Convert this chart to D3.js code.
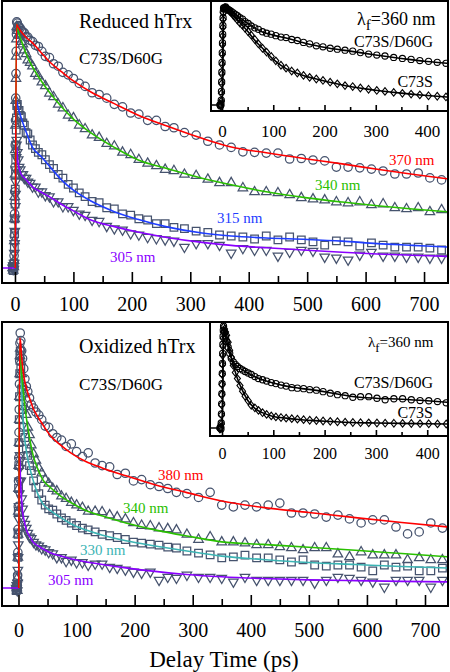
<!DOCTYPE html>
<html><head><meta charset="utf-8">
<script src="https://cdn.jsdelivr.net/npm/d3@7"></script>
<style>
body{margin:0;background:#fff}
svg{display:block}
text{font-family:"Liberation Serif","Times New Roman",serif}
</style>
</head><body>
<svg id="c" width="450" height="672"></svg>
<script>
// ---------- DATA ----------
const mainTicks = [0,100,200,300,400,500,600,700];
const mainMinor = [50,150,250,350,450,550,650];
const insetTicks = [0,100,200,300,400];
const insetMinor = [50,150,250,350];

const mainTimes = [-4,-3,-2,
 -1.5,-1.1,-0.7,-0.3,0.1,0.5,0.9,1.3,1.7,2.1,2.5,
 3,
 4,5.5,7,9,11,13.5,16,19,22,26,
 30,35,40,46,52,59,66,74,82,91,
 100,110,120,132,144,157,170,184,198,212,
 227,242,257,272,290,310,330,
 350,370,390,410,430,450,470,490,510,530,
 550,570,590,610,630,650,670,690,710,730];

// Reduced hTrx, C73S/D60G
const red370 = [-0.01,0.005,0.0,
 0.05,0.13,0.22,0.31,0.41,0.5,0.6,0.69,0.79,0.88,0.95,
 1.0,
 0.995,0.985,0.98,0.975,0.965,0.96,0.955,0.94,0.938,0.925,
 0.92,0.905,0.9,0.88,0.86,0.855,0.83,0.82,0.795,0.785,
 0.77,0.75,0.738,0.712,0.705,0.69,0.665,0.655,0.63,0.625,
 0.6,0.6,0.575,0.57,0.55,0.54,0.515,
 0.5,0.49,0.472,0.47,0.467,0.467,0.443,0.445,0.439,0.435,
 0.41,0.41,0.407,0.402,0.394,0.382,0.382,0.386,0.366,0.358];
const red340 = [0.0,-0.01,0.005,
 0.03,0.11,0.2,0.29,0.38,0.48,0.58,0.68,0.77,0.86,0.93,
 0.98,
 0.975,0.965,0.95,0.945,0.92,0.91,0.885,0.87,0.845,0.835,
 0.82,0.79,0.78,0.755,0.74,0.71,0.695,0.665,0.65,0.62,
 0.61,0.58,0.565,0.54,0.53,0.505,0.495,0.47,0.46,0.44,
 0.425,0.415,0.4,0.395,0.38,0.375,0.36,
 0.346,0.346,0.325,0.309,0.309,0.305,0.297,0.285,0.28,0.276,
 0.268,0.264,0.268,0.256,0.26,0.244,0.24,0.244,0.228,0.236];
const red315 = [0.005,-0.01,0.0,
 0.02,0.08,0.14,0.2,0.26,0.32,0.38,0.44,0.5,0.56,0.61,
 0.66,
 0.665,0.64,0.64,0.62,0.615,0.59,0.58,0.55,0.545,0.52,
 0.5,0.485,0.47,0.46,0.44,0.42,0.405,0.38,0.365,0.34,
 0.325,0.305,0.29,0.27,0.265,0.245,0.24,0.22,0.215,0.2,
 0.195,0.18,0.18,0.165,0.16,0.15,0.145,
 0.134,0.13,0.126,0.118,0.13,0.114,0.126,0.114,0.106,0.093,
 0.11,0.106,0.089,0.102,0.093,0.085,0.085,0.085,0.081,0.073];
const red305 = [0.0,0.01,-0.005,
 0.02,0.06,0.1,0.15,0.2,0.25,0.3,0.35,0.4,0.45,0.5,
 0.52,
 0.47,0.44,0.41,0.4,0.38,0.38,0.365,0.365,0.35,0.345,
 0.33,0.33,0.31,0.31,0.295,0.29,0.27,0.27,0.25,0.25,
 0.235,0.22,0.215,0.195,0.19,0.17,0.16,0.155,0.14,0.135,
 0.125,0.12,0.115,0.11,0.085,0.1,0.1,
 0.093,0.061,0.08,0.073,0.073,0.049,0.065,0.073,0.069,0.045,
 0.041,0.033,0.053,0.065,0.049,0.049,0.045,0.045,0.041,0.041];

// Oxidized hTrx, C73S/D60G
const ox380 = [0.0,-0.01,0.01,
 0.05,0.14,0.23,0.32,0.42,0.51,0.61,0.7,0.8,0.89,0.96,
 1.0,
 0.97,0.93,0.9,0.86,0.82,0.79,0.77,0.745,0.72,0.705,
 0.69,0.678,0.66,0.635,0.63,0.605,0.59,0.58,0.555,0.565,
 0.535,0.515,0.53,0.49,0.48,0.475,0.445,0.45,0.42,0.425,
 0.405,0.398,0.39,0.375,0.37,0.355,0.375,
 0.325,0.318,0.325,0.318,0.325,0.333,0.294,0.294,0.29,0.278,
 0.286,0.271,0.255,0.267,0.267,0.239,0.212,0.22,0.255,0.235];
const ox340 = [0.01,0.0,-0.01,
 0.04,0.12,0.21,0.3,0.39,0.48,0.57,0.66,0.75,0.84,0.91,
 0.94,
 0.89,0.84,0.8,0.76,0.71,0.68,0.63,0.6,0.56,0.525,
 0.5,0.47,0.45,0.425,0.41,0.39,0.38,0.36,0.35,0.335,
 0.325,0.315,0.3,0.3,0.298,0.286,0.278,0.27,0.255,0.245,
 0.243,0.235,0.232,0.227,0.21,0.19,0.2,
 0.18,0.18,0.176,0.169,0.169,0.161,0.157,0.149,0.157,0.157,
 0.133,0.122,0.141,0.129,0.129,0.129,0.11,0.118,0.11,0.11];
const ox330 = [-0.01,0.005,0.0,
 0.04,0.12,0.21,0.3,0.39,0.48,0.57,0.66,0.75,0.84,0.91,
 0.93,
 0.86,0.78,0.7,0.63,0.59,0.545,0.52,0.48,0.46,0.42,
 0.395,0.37,0.345,0.325,0.31,0.305,0.29,0.275,0.265,0.255,
 0.245,0.235,0.228,0.22,0.21,0.205,0.198,0.19,0.18,0.176,
 0.172,0.168,0.16,0.157,0.145,0.137,0.13,
 0.118,0.122,0.129,0.118,0.118,0.11,0.102,0.11,0.09,0.086,
 0.09,0.09,0.082,0.067,0.09,0.082,0.086,0.067,0.067,0.078];
const ox305 = [0.0,0.01,-0.01,
 0.02,0.07,0.12,0.17,0.22,0.27,0.32,0.37,0.42,0.47,0.52,
 0.5,
 0.42,0.35,0.31,0.27,0.25,0.235,0.215,0.2,0.195,0.18,
 0.17,0.165,0.155,0.15,0.14,0.135,0.12,0.12,0.105,0.11,
 0.1,0.1,0.09,0.095,0.095,0.082,0.078,0.071,0.063,0.059,
 0.063,0.031,0.043,0.039,0.051,0.043,0.043,
 0.039,0.024,0.043,0.031,0.031,0.031,0.031,0.031,0.02,0.031,
 0.043,0.039,0.031,0.024,0.004,0.031,0.031,0.031,0.004,0.031];

// fitted curves
const redFitTimes = [-22,0.5,2.5,5,10,18,30,45,60,80,100,130,170,210,260,320,370,430,500,560,620,680,741];
const redFit370 = [null,0,0.99,0.98,0.962,0.94,0.915,0.875,0.836,0.797,0.76,0.715,0.668,0.622,0.577,0.527,0.492,0.468,0.443,0.423,0.401,0.381,0.362];
const redFit340 = [null,0,0.99,0.965,0.93,0.877,0.817,0.76,0.711,0.654,0.605,0.549,0.49,0.44,0.404,0.365,0.338,0.31,0.285,0.268,0.253,0.24,0.228];
const redFit315 = [null,0,0.68,0.655,0.615,0.56,0.49,0.452,0.411,0.357,0.316,0.272,0.229,0.198,0.167,0.142,0.13,0.122,0.116,0.109,0.099,0.092,0.085];
const redFit305 = [0,0,0.5,0.43,0.384,0.362,0.33,0.308,0.288,0.258,0.232,0.195,0.168,0.146,0.124,0.104,0.092,0.082,0.072,0.064,0.057,0.052,0.047];

const oxFitTimes = [-28,0.5,2,3.5,5,7,10,14,19,25,33,42,54,70,90,115,145,185,235,290,350,420,500,580,660,740];
const oxFit380 = [null,0,0.98,0.965,0.92,0.87,0.82,0.78,0.745,0.706,0.672,0.64,0.6,0.565,0.53,0.497,0.47,0.44,0.405,0.374,0.341,0.316,0.296,0.276,0.257,0.239];
const oxFit340 = [null,0,0.95,0.9,0.85,0.8,0.735,0.66,0.59,0.522,0.468,0.424,0.396,0.365,0.335,0.305,0.282,0.255,0.228,0.204,0.181,0.171,0.16,0.148,0.135,0.122];
const oxFit330 = [null,0,0.96,0.89,0.81,0.69,0.6,0.53,0.475,0.424,0.37,0.33,0.305,0.28,0.252,0.228,0.207,0.185,0.165,0.145,0.125,0.112,0.1,0.092,0.084,0.078];
const oxFit305 = [0,0,0.52,0.42,0.36,0.3,0.262,0.225,0.203,0.18,0.166,0.154,0.139,0.127,0.115,0.103,0.092,0.079,0.065,0.053,0.044,0.037,0.032,0.029,0.026,0.024];

// insets (lambda_f = 360 nm)
const insetTimes = [-4,-3,-2,
 -1.5,-1.1,-0.7,-0.3,0.1,0.5,0.9,1.3,1.7,2.1,2.5,
 3,
 5,7,9,12,15,18,22,26,30,35,
 40,45,51,57,64,71,79,87,96,105,
 115,125,136,147,159,171,184,197,211,225,
 240,255,270,286,302,318,335,352,369,386,
 403,420,437];
const redInD60G = [0.0,-0.01,0.01,
 0.05,0.14,0.24,0.34,0.44,0.54,0.64,0.73,0.82,0.9,0.96,
 1.0,
 1.0,1.01,0.995,0.985,0.975,0.965,0.95,0.935,0.92,0.9,
 0.885,0.86,0.84,0.815,0.795,0.78,0.755,0.74,0.73,0.715,
 0.7,0.695,0.675,0.665,0.645,0.63,0.61,0.6,0.585,0.575,
 0.565,0.555,0.54,0.525,0.515,0.505,0.49,0.48,0.47,0.458,
 0.45,0.44,0.43];
const redInC73S = [0.01,0.0,-0.01,
 0.04,0.12,0.22,0.32,0.42,0.52,0.62,0.71,0.8,0.88,0.95,
 0.99,
 1.0,1.0,0.99,0.98,0.965,0.95,0.925,0.9,0.875,0.845,
 0.82,0.79,0.755,0.72,0.675,0.63,0.585,0.545,0.5,0.455,
 0.41,0.38,0.35,0.33,0.305,0.285,0.268,0.253,0.235,0.218,
 0.2,0.19,0.175,0.162,0.15,0.14,0.13,0.12,0.112,0.104,
 0.095,0.09,0.083];
const oxInD60G = [0.0,0.01,-0.01,
 0.05,0.14,0.24,0.34,0.44,0.54,0.64,0.74,0.83,0.91,0.97,
 1.01,
 0.95,0.9,0.86,0.8,0.74,0.69,0.655,0.63,0.61,0.59,
 0.575,0.56,0.545,0.53,0.51,0.49,0.478,0.465,0.45,0.44,
 0.425,0.415,0.4,0.395,0.39,0.38,0.375,0.36,0.345,0.33,
 0.32,0.305,0.31,0.31,0.295,0.28,0.29,0.29,0.28,0.272,
 0.27,0.262,0.25];
const oxInC73S = [-0.01,0.0,0.01,
 0.04,0.13,0.23,0.33,0.43,0.53,0.63,0.72,0.81,0.89,0.95,
 1.0,
 0.98,0.95,0.92,0.85,0.77,0.7,0.62,0.55,0.49,0.42,
 0.365,0.315,0.27,0.225,0.2,0.175,0.152,0.135,0.12,0.11,
 0.104,0.098,0.093,0.088,0.083,0.077,0.074,0.07,0.066,0.062,
 0.058,0.055,0.053,0.051,0.05,0.048,0.047,0.046,0.045,0.043,
 0.042,0.041,0.04];

const insetFitTimes = [-22,0.5,3,6,10,15,20,30,40,50,65,80,100,125,150,180,210,250,300,350,400,441];
const redInFitD60G = [0,0,1.0,1.01,1.0,0.98,0.96,0.92,0.88,0.84,0.79,0.75,0.72,0.69,0.655,0.615,0.585,0.555,0.515,0.48,0.448,0.43];
const redInFitC73S = [null,0,1.0,1.0,0.99,0.965,0.935,0.875,0.82,0.76,0.66,0.58,0.47,0.375,0.32,0.272,0.235,0.19,0.152,0.122,0.098,0.082];
const oxInFitD60G = [0,0,1.0,0.93,0.84,0.74,0.67,0.61,0.575,0.545,0.505,0.475,0.445,0.415,0.395,0.375,0.35,0.315,0.295,0.285,0.27,0.255];
const oxInFitC73S = [null,0,1.0,0.97,0.9,0.77,0.66,0.49,0.37,0.275,0.19,0.15,0.115,0.098,0.085,0.073,0.065,0.055,0.05,0.046,0.042,0.04];

// ---------- DRAWING ----------
const svg = d3.select('#c');
const FONT = '"Liberation Serif","Times New Roman",serif';
const MK = '#46536e';
const COL = {red:'#ff0000', green:'#29c000', blue:'#1f3dff', purple:'#8a00ff', teal:'#3cb4b4'};

const shapes = {
  circle: r => d3.path(),
};
function markerPath(shape, s) {
  const p = d3.path();
  if (shape === 'circle') { p.moveTo(s,0); p.arc(0,0,s,0,2*Math.PI); }
  else if (shape === 'up') { const h = s*Math.sqrt(3)/2; p.moveTo(0,-2*h/3); p.lineTo(s/2,h/3); p.lineTo(-s/2,h/3); p.closePath(); }
  else if (shape === 'down') { const h = s*Math.sqrt(3)/2; p.moveTo(0,2*h/3); p.lineTo(s/2,-h/3); p.lineTo(-s/2,-h/3); p.closePath(); }
  else if (shape === 'square') { p.rect(-s/2,-s/2,s,s); }
  else if (shape === 'diamond') { p.moveTo(0,-s); p.lineTo(s*0.8,0); p.lineTo(0,s); p.lineTo(-s*0.8,0); p.closePath(); }
  return p.toString();
}

let clipN = 0;
function panel(o) {
  const x = d3.scaleLinear().domain(o.xDomain).range([o.x0, o.x1]);
  const y = d3.scaleLinear().domain(o.yDomain).range([o.y1, o.y0]);
  const g = svg.append('g');
  if (o.bg) g.append('rect').attr('x',o.x0).attr('y',o.y0).attr('width',o.x1-o.x0).attr('height',o.y1-o.y0).attr('fill','#fff');
  const id = 'clip'+(clipN++);
  svg.append('clipPath').attr('id',id).append('rect')
    .attr('x',o.x0+1).attr('y',o.y0+1).attr('width',o.x1-o.x0-2).attr('height',o.y1-o.y0-2);
  const dg = g.append('g').attr('clip-path',`url(#${id})`);
  o.series.forEach(s => {
    dg.append('g').selectAll('path').data(o.times.map((t,i)=>[t,s.vals[i]])).join('path')
      .attr('d', markerPath(s.shape, s.size))
      .attr('transform', d => `translate(${x(d[0])},${y(d[1])})`)
      .attr('fill','none').attr('stroke', o.markColor).attr('stroke-width', o.markWidth);
  });
  const line = d3.line().defined(d => d[1] != null).x(d => x(d[0])).y(d => y(d[1])).curve(d3.curveMonotoneX);
  o.fits.forEach(f => {
    dg.append('path').datum(o.fitTimes.map((t,i)=>[t,f.vals[i]]))
      .attr('d', line).attr('fill','none').attr('stroke', f.color).attr('stroke-width', o.fitWidth);
  });
  // axis ticks (inward) with labels below
  const ax = d3.axisBottom(x).tickValues(o.ticks).tickSizeInner(-o.tickLen).tickSizeOuter(0)
    .tickPadding(o.tickPad).tickFormat(d3.format('d'));
  const ag = g.append('g').attr('transform',`translate(0,${o.y1})`).call(ax);
  ag.select('.domain').remove();
  ag.selectAll('line').attr('stroke','#000').attr('stroke-width',1.6);
  ag.selectAll('text').attr('font-family',FONT).attr('font-size',o.tickFont).attr('fill','#000');
  const mx = d3.axisBottom(x).tickValues(o.minor).tickSizeInner(-o.minorLen).tickSizeOuter(0).tickFormat('');
  const mg = g.append('g').attr('transform',`translate(0,${o.y1})`).call(mx);
  mg.select('.domain').remove();
  mg.selectAll('line').attr('stroke','#000').attr('stroke-width',1.6);
  g.append('rect').attr('x',o.x0).attr('y',o.y0).attr('width',o.x1-o.x0).attr('height',o.y1-o.y0)
    .attr('fill','none').attr('stroke','#000').attr('stroke-width',2);
  return {x,y,g};
}

function label(txt, x, y, size, color, anchor) {
  return svg.append('text').attr('x',x).attr('y',y).attr('font-family',FONT).attr('font-size',size)
    .attr('fill',color||'#000').attr('text-anchor',anchor||'start').text(txt);
}
function lambdaLabel(x, y, size) {
  const t = svg.append('text').attr('x',x).attr('y',y).attr('font-family',FONT).attr('font-size',size).attr('fill','#000');
  t.append('tspan').text('λ');
  t.append('tspan').attr('dy',size*0.3).attr('font-size',size*0.85).text('f');
  t.append('tspan').attr('dy',-size*0.3).text('=360 nm');
}

// Top main panel
panel({x0:2,x1:448,y0:1,y1:283,xDomain:[-22.2,741],yDomain:[-0.061,1.085],
  times:mainTimes,
  series:[{vals:red370,shape:'circle',size:4.2},{vals:red340,shape:'up',size:9.5},
          {vals:red315,shape:'square',size:7.6},{vals:red305,shape:'down',size:9.5}],
  fitTimes:redFitTimes,
  fits:[{vals:redFit305,color:COL.purple},{vals:redFit315,color:COL.blue},{vals:redFit340,color:COL.green},{vals:redFit370,color:COL.red}],
  markColor:MK,markWidth:1.25,fitWidth:1.6,
  ticks:mainTicks,minor:mainMinor,tickLen:11,minorLen:7,tickPad:14,tickFont:20});

// Top inset
panel({x0:211,x1:448,y0:1,y1:111,xDomain:[-21.5,441],yDomain:[-0.062,1.072],bg:true,
  times:insetTimes,
  series:[{vals:redInD60G,shape:'circle',size:3.1},{vals:redInC73S,shape:'diamond',size:3.8}],
  fitTimes:insetFitTimes,
  fits:[{vals:redInFitD60G,color:'#000'},{vals:redInFitC73S,color:'#000'}],
  markColor:'#000',markWidth:1.1,fitWidth:1.6,
  ticks:insetTicks,minor:insetMinor,tickLen:6,minorLen:4,tickPad:14,tickFont:17});

// Bottom main panel
panel({x0:2,x1:448,y0:322,y1:606,xDomain:[-28.4,739.6],yDomain:[-0.0706,1.043],
  times:mainTimes,
  series:[{vals:ox380,shape:'circle',size:4.2},{vals:ox340,shape:'up',size:9.5},
          {vals:ox330,shape:'square',size:7.6},{vals:ox305,shape:'down',size:9.5}],
  fitTimes:oxFitTimes,
  fits:[{vals:oxFit305,color:COL.purple},{vals:oxFit330,color:COL.teal},{vals:oxFit340,color:COL.green},{vals:oxFit380,color:COL.red}],
  markColor:MK,markWidth:1.25,fitWidth:1.6,
  ticks:mainTicks,minor:mainMinor,tickLen:11,minorLen:7,tickPad:17,tickFont:20});

// Bottom inset
panel({x0:210,x1:448,y0:322,y1:436,xDomain:[-23.4,440.5],yDomain:[-0.079,1.05],bg:true,
  times:insetTimes,
  series:[{vals:oxInD60G,shape:'circle',size:3.1},{vals:oxInC73S,shape:'diamond',size:3.8}],
  fitTimes:insetFitTimes,
  fits:[{vals:oxInFitD60G,color:'#000'},{vals:oxInFitC73S,color:'#000'}],
  markColor:'#000',markWidth:1.1,fitWidth:1.6,
  ticks:insetTicks,minor:insetMinor,tickLen:6,minorLen:4,tickPad:12,tickFont:16});

// Titles
label('Reduced hTrx', 79, 28, 20);
label('C73S/D60G', 79, 64, 17);
label('Oxidized hTrx', 79, 353, 20);
label('C73S/D60G', 79, 390, 17);

// inset texts
lambdaLabel(357, 25, 18);
label('C73S/D60G', 433, 47, 16, '#000', 'end');
label('C73S', 433, 87, 16, '#000', 'end');
lambdaLabel(368, 347, 15);
label('C73S/D60G', 433, 388, 16, '#000', 'end');
label('C73S', 433, 418, 16, '#000', 'end');

// curve labels
label('370 nm', 389, 165, 15, COL.red);
label('340 nm', 315, 190, 15, COL.green);
label('315 nm', 217, 223, 15, COL.blue);
label('305 nm', 110, 262, 15, COL.purple);
label('380 nm', 158, 480, 15, COL.red);
label('340 nm', 123, 513, 15, COL.green);
label('330 nm', 80, 555, 15, COL.teal);
label('305 nm', 48, 585, 15, COL.purple);

// axis title
label('Delay Time (ps)', 224, 667, 23, '#000', 'middle');
</script>
</body></html>
